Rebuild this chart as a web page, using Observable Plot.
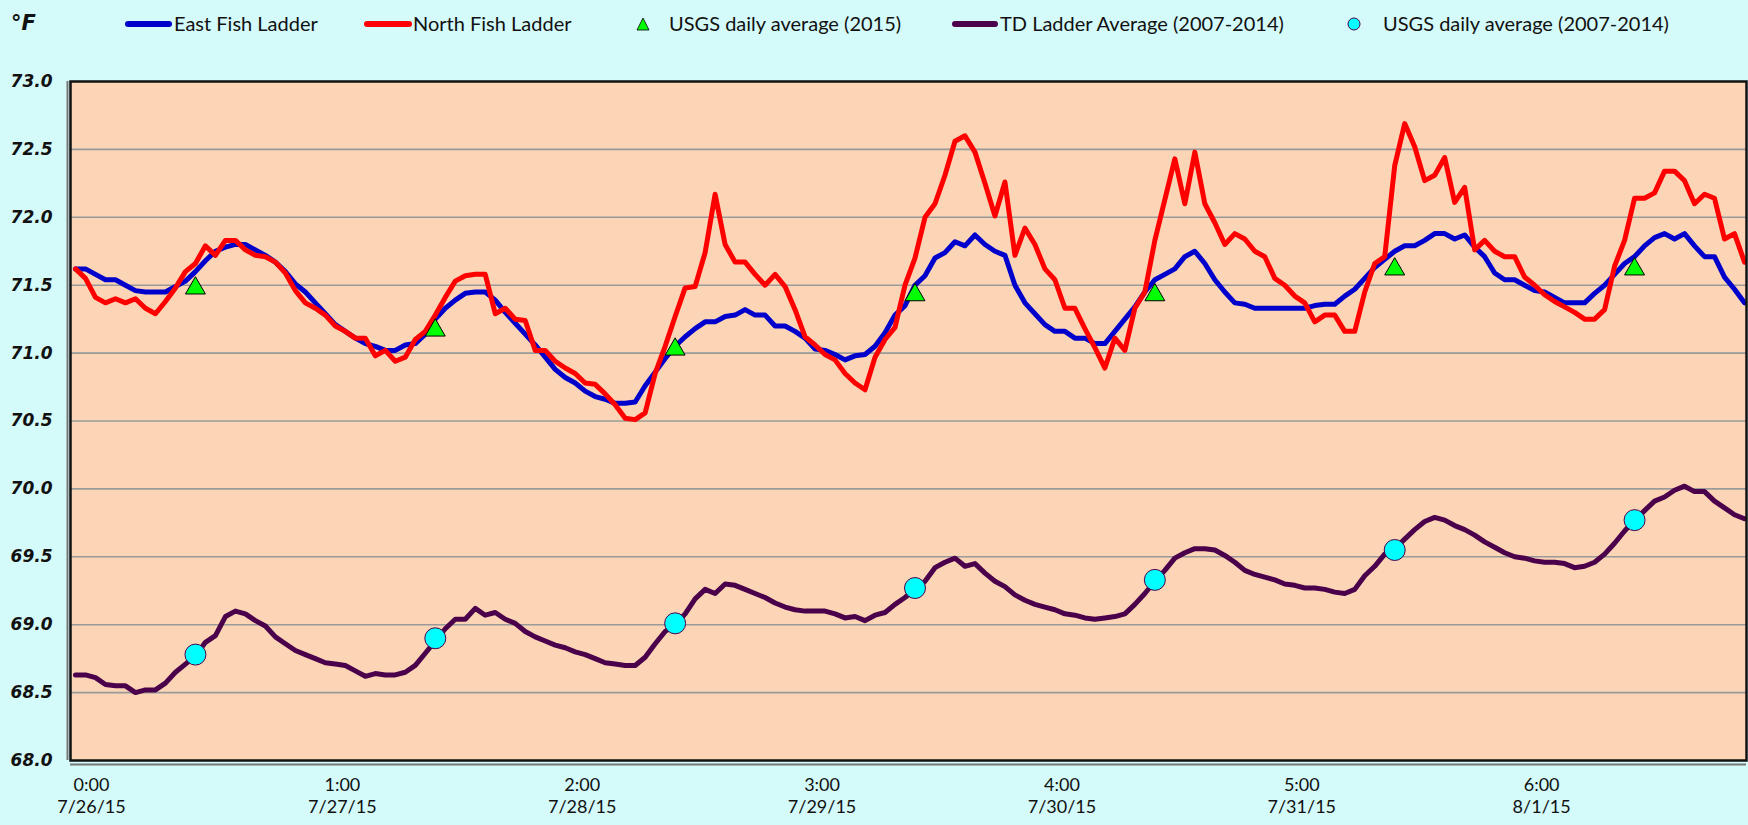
<!DOCTYPE html>
<html>
<head>
<meta charset="utf-8">
<script src="https://cdn.jsdelivr.net/npm/d3@7"></script>
<script src="https://cdn.jsdelivr.net/npm/@observablehq/plot@0.6"></script>
<style>
  html, body { margin: 0; padding: 0; background: #D4FAFA; }
  #wrap { width: 1748px; height: 825px; position: relative; overflow: hidden; background: #D4FAFA; }
  #hdr { position: relative; width: 1748px; height: 50px; font-family: Lato, "Open Sans", sans-serif; font-size: 20px; color: #111; }
  #hdr .t { position: absolute; top: 10px; line-height: 26px; white-space: nowrap; }
  #hdr .sw { position: absolute; top: 21px; height: 6px; border-radius: 3px; }
  #hdr .unit { position: absolute; left: 11px; top: 10px; font-family: "DejaVu Sans", sans-serif; font-weight: bold; font-style: italic; font-size: 21px; line-height: 26px; }
  #hdr svg.m { position: absolute; }
</style>
</head>
<body>
<div id="wrap">
  <div id="hdr"></div>
  <div id="chart"></div>
</div>
<script>
// ---------------- data (hourly, 7/26/15 0:00 onward) ----------------
const seriesNames = ["East Fish Ladder", "North Fish Ladder", "USGS daily average (2015)", "TD Ladder Average (2007-2014)", "USGS daily average (2007-2014)"];

const eastFishLadder = [
  71.62, 71.62, 71.58, 71.54, 71.54, 71.50, 71.46, 71.45, 71.45, 71.45,
  71.49, 71.53, 71.60, 71.68, 71.75, 71.78, 71.80, 71.80, 71.76, 71.72,
  71.67, 71.60, 71.51, 71.45, 71.37, 71.29, 71.21, 71.16, 71.11, 71.07,
  71.05, 71.02, 71.02, 71.06, 71.07, 71.14, 71.25, 71.33, 71.39, 71.44,
  71.45, 71.45, 71.39, 71.30, 71.22, 71.14, 71.06, 70.97, 70.88, 70.82,
  70.78, 70.72, 70.68, 70.66, 70.63, 70.63, 70.64, 70.76, 70.86, 70.96,
  71.05, 71.12, 71.18, 71.23, 71.23, 71.27, 71.28, 71.32, 71.28, 71.28,
  71.20, 71.20, 71.16, 71.11, 71.03, 71.02, 70.99, 70.95, 70.98, 70.99,
  71.05, 71.15, 71.28, 71.35, 71.50, 71.57, 71.70, 71.74, 71.82, 71.79,
  71.87, 71.80, 71.75, 71.72, 71.50, 71.37, 71.29, 71.21, 71.16, 71.16,
  71.11, 71.11, 71.07, 71.07, 71.16, 71.25, 71.34, 71.45, 71.54, 71.58,
  71.62, 71.71, 71.75, 71.66, 71.54, 71.45, 71.37, 71.36, 71.33, 71.33,
  71.33, 71.33, 71.33, 71.33, 71.35, 71.36, 71.36, 71.42, 71.47, 71.55,
  71.63, 71.69, 71.75, 71.79, 71.79, 71.83, 71.88, 71.88, 71.84, 71.87,
  71.78, 71.71, 71.59, 71.54, 71.54, 71.50, 71.46, 71.45, 71.41, 71.37,
  71.37, 71.37, 71.44, 71.50, 71.58, 71.66, 71.71, 71.79, 71.85, 71.88,
  71.84, 71.88, 71.79, 71.71, 71.71, 71.56, 71.47, 71.37
];

const northFishLadder = [
  71.62, 71.55, 71.41, 71.37, 71.40, 71.37, 71.40, 71.33, 71.29, 71.38,
  71.48, 71.60, 71.66, 71.79, 71.72, 71.83, 71.83, 71.76, 71.72, 71.71,
  71.67, 71.59, 71.46, 71.37, 71.33, 71.28, 71.20, 71.16, 71.11, 71.11,
  70.98, 71.02, 70.94, 70.97, 71.10, 71.16, 71.28, 71.41, 71.53, 71.57,
  71.58, 71.58, 71.29, 71.33, 71.25, 71.24, 71.02, 71.02, 70.94, 70.89,
  70.85, 70.78, 70.77, 70.70, 70.62, 70.52, 70.51, 70.56, 70.85, 71.05,
  71.27, 71.48, 71.49, 71.74, 72.17, 71.80, 71.67, 71.67, 71.58, 71.50,
  71.58, 71.49, 71.32, 71.12, 71.06, 70.99, 70.95, 70.85, 70.78, 70.73,
  70.97, 71.10, 71.19, 71.50, 71.70, 72.00, 72.10, 72.31, 72.56, 72.60,
  72.48, 72.25, 72.01, 72.26, 71.72, 71.92, 71.80, 71.62, 71.54, 71.33,
  71.33, 71.18, 71.04, 70.89, 71.11, 71.02, 71.33, 71.45, 71.83, 72.13,
  72.43, 72.10, 72.48, 72.10, 71.96, 71.80, 71.88, 71.84, 71.75, 71.71,
  71.55, 71.50, 71.42, 71.37, 71.23, 71.28, 71.28, 71.16, 71.16, 71.45,
  71.66, 71.71, 72.38, 72.69, 72.52, 72.27, 72.31, 72.44, 72.11, 72.22,
  71.76, 71.83, 71.75, 71.71, 71.71, 71.56, 71.50, 71.43, 71.38, 71.34,
  71.30, 71.25, 71.25, 71.32, 71.64, 71.83, 72.14, 72.14, 72.18, 72.34,
  72.34, 72.27, 72.10, 72.17, 72.14, 71.84, 71.88, 71.67
];

const tdLadderAverage = [
  68.63, 68.63, 68.61, 68.56, 68.55, 68.55, 68.50, 68.52, 68.52, 68.57,
  68.65, 68.71, 68.77, 68.87, 68.92, 69.06, 69.10, 69.08, 69.03, 68.99,
  68.91, 68.86, 68.81, 68.78, 68.75, 68.72, 68.71, 68.70, 68.66, 68.62,
  68.64, 68.63, 68.63, 68.65, 68.70, 68.79, 68.88, 68.97, 69.04, 69.04,
  69.12, 69.07, 69.09, 69.04, 69.01, 68.95, 68.91, 68.88, 68.85, 68.83,
  68.80, 68.78, 68.75, 68.72, 68.71, 68.70, 68.70, 68.76, 68.86, 68.95,
  69.00, 69.08, 69.19, 69.26, 69.23, 69.30, 69.29, 69.26, 69.23, 69.20,
  69.16, 69.13, 69.11, 69.10, 69.10, 69.10, 69.08, 69.05, 69.06, 69.03,
  69.07, 69.09, 69.15, 69.20, 69.26, 69.32, 69.42, 69.46, 69.49, 69.43,
  69.45, 69.38, 69.32, 69.28, 69.22, 69.18, 69.15, 69.13, 69.11, 69.08,
  69.07, 69.05, 69.04, 69.05, 69.06, 69.08, 69.15, 69.23, 69.32, 69.40,
  69.49, 69.53, 69.56, 69.56, 69.55, 69.51, 69.46, 69.40, 69.37, 69.35,
  69.33, 69.30, 69.29, 69.27, 69.27, 69.26, 69.24, 69.23, 69.26, 69.36,
  69.43, 69.52, 69.56, 69.63, 69.70, 69.76, 69.79, 69.77, 69.73, 69.70,
  69.66, 69.61, 69.57, 69.53, 69.50, 69.49, 69.47, 69.46, 69.46, 69.45,
  69.42, 69.43, 69.46, 69.52, 69.60, 69.69, 69.77, 69.84, 69.91, 69.94,
  69.99, 70.02, 69.98, 69.98, 69.91, 69.86, 69.81, 69.78
];

// daily averages, plotted at 12:00 of each day
const dailyHour = [12, 36, 60, 84, 108, 132, 156];
const usgsDaily2015 = [71.50, 71.19, 71.05, 71.45, 71.45, 71.64, 71.64];
const usgsDaily2007_2014 = [68.78, 68.90, 69.01, 69.27, 69.33, 69.55, 69.77];

// axis ticks
const xTickHours = [0, 24, 48, 72, 96, 120, 144];
const xTickLabels = ["0:00\n7/26/15", "1:00\n7/27/15", "2:00\n7/28/15", "3:00\n7/29/15", "4:00\n7/30/15", "5:00\n7/31/15", "6:00\n8/1/15"];
const yTicks = [68.0, 68.5, 69.0, 69.5, 70.0, 70.5, 71.0, 71.5, 72.0, 72.5, 73.0];

// ---------------- colours ----------------
const cEast = "#0000CC", cNorth = "#FF0000", cTD = "#4B004B", cTri = "#00FF00", cCirc = "#00FFFF";

// ---------------- legend (HTML, above the svg) ----------------
const hdr = document.getElementById("hdr");
hdr.innerHTML = `
  <div class="unit">°F</div>
  <div class="sw" style="left:125px;width:47px;background:${cEast}"></div>
  <div class="t" style="left:174px">${seriesNames[0]}</div>
  <div class="sw" style="left:364px;width:48px;background:${cNorth}"></div>
  <div class="t" style="left:413px">${seriesNames[1]}</div>
  <svg class="m" style="left:636px;top:17px" width="14" height="14"><polygon points="7,1 13,13 1,13" fill="${cTri}" stroke="#000" stroke-width="0.8"/></svg>
  <div class="t" style="left:669px">${seriesNames[2]}</div>
  <div class="sw" style="left:952px;width:46px;background:${cTD}"></div>
  <div class="t" style="left:1000px">${seriesNames[3]}</div>
  <svg class="m" style="left:1347px;top:17px" width="14" height="14"><circle cx="7" cy="7" r="6" fill="${cCirc}" stroke="${cTD}" stroke-width="1"/></svg>
  <div class="t" style="left:1383px">${seriesNames[4]}</div>
`;

// ---------------- chart ----------------
const hourly = (arr) => arr.map((v, i) => ({h: i, v}));
const daily = (arr) => arr.map((v, i) => ({h: dailyHour[i], v}));

const xAxisStyle = {tickSize: 0, tickPadding: 15, fontSize: 18, lineHeight: 1.22, fill: "#111", fontFamily: "Lato, sans-serif", label: null};

const chart = Plot.plot({
  width: 1748,
  height: 775,
  marginTop: 31,
  marginBottom: 65,
  marginLeft: 70,
  marginRight: 2,
  style: {background: "#D4FAFA", fontFamily: "Lato, sans-serif", overflow: "visible"},
  x: {domain: [-0.5, 167.2], axis: null},
  y: {domain: [68, 73], axis: null},
  marks: [
    Plot.frame({fill: "#FBD5B5", stroke: null}),
    Plot.gridY(yTicks.filter(t => t > 68 && t < 73), {stroke: "#9A9A9A", strokeOpacity: 1, strokeWidth: 1.6}),
    Plot.line(hourly(eastFishLadder), {x: "h", y: "v", stroke: cEast, strokeWidth: 5, strokeLinejoin: "round", strokeLinecap: "round"}),
    Plot.line(hourly(northFishLadder), {x: "h", y: "v", stroke: cNorth, strokeWidth: 5, strokeLinejoin: "round", strokeLinecap: "round"}),
    Plot.dot(daily(usgsDaily2015), {x: "h", y: "v", symbol: "triangle", r: 7.4, fill: cTri, stroke: "#000", strokeWidth: 1, dy: 3}),
    Plot.line(hourly(tdLadderAverage), {x: "h", y: "v", stroke: cTD, strokeWidth: 5, strokeLinejoin: "round", strokeLinecap: "round"}),
    Plot.dot(daily(usgsDaily2007_2014), {x: "h", y: "v", r: 10.5, fill: cCirc, stroke: cTD, strokeWidth: 1}),
    // plot-area border with shadow
    Plot.ruleY([68], {stroke: "#777", strokeWidth: 2, dy: 4}),
    Plot.ruleX([-0.5], {stroke: "#777", strokeWidth: 2, dx: -3}),
    Plot.frame({stroke: "#111", strokeWidth: 2.5}),
    Plot.axisX({...xAxisStyle, ticks: xTickHours.slice(0, 1), tickFormat: () => xTickLabels[0], dx: 16}),
    Plot.axisX({...xAxisStyle, ticks: xTickHours.slice(1), tickFormat: (d, i) => xTickLabels[i + 1], dx: 27}),
    Plot.axisY({ticks: yTicks, tickFormat: d => d.toFixed(1), tickSize: 0, tickPadding: 18,
                fontSize: 17, fontWeight: "bold", fontStyle: "italic", fontFamily: "DejaVu Sans, sans-serif", fill: "#111", label: null})
  ]
});
document.getElementById("chart").appendChild(chart);
</script>
</body>
</html>
